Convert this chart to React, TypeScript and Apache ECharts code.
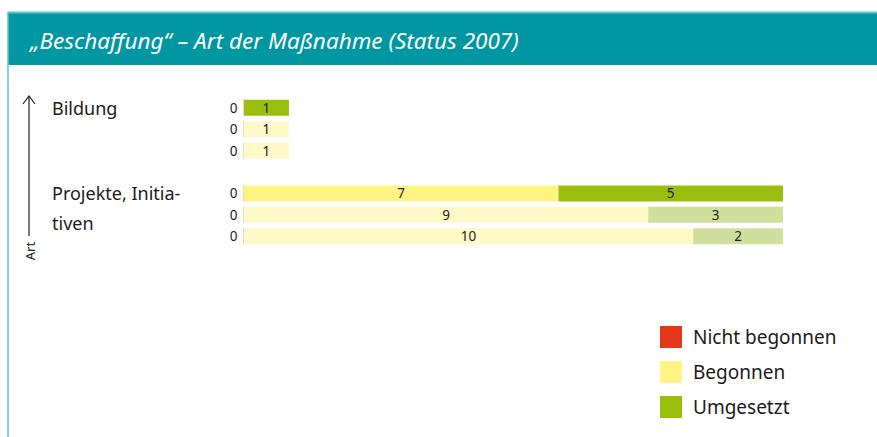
import React, { useEffect, useRef } from "react";
import * as echarts from "echarts";

const titleText = "„Beschaffung“ – Art der Maßnahme (Status 2007)";
const axisName = "Art";
const rows = ["Bildung-1", "Bildung-2", "Bildung-3", "gap", "Projekte-1", "Projekte-2", "Projekte-3"];
const rowLabels = ["Bildung", "", "", "", " \nProjekte, Initia-\ntiven", "", ""];
const seriesNames = ["Nicht begonnen", "Begonnen", "Umgesetzt"];
const nichtBegonnen = [0, 0, 0, null, 0, 0, 0];
const begonnen = [0, 1, 1, null, 7, 9, 10];
const umgesetzt = [1, 0, 0, null, 5, 3, 2];
const shade = ["full", "light", "light", null, "full", "light", "light"];
const fullColors = ["#E5381A", "#FFF383", "#99BE0E"];
const lightColors = ["#F6B9A6", "#FFF9C8", "#D0DF9B"];

export default function App() {
  const ref = useRef<HTMLDivElement>(null);
  useEffect(() => {
    if (!ref.current) return;
    const chart = echarts.init(ref.current, null, { renderer: "svg" });
    const font = "Noto Sans";
    const mk = (vals: (number | null)[], si: number) =>
      vals.map((v, i) =>
        v === null
          ? null
          : {
              value: v,
              itemStyle: { color: shade[i] === "full" ? fullColors[si] : lightColors[si] },
            }
      );
    const valueLabel = {
      show: true,
      position: "inside",
      fontSize: 13.5,
      fontFamily: font,
      color: "#222",
      formatter: (p: any) => (p.value > 0 ? String(p.value) : ""),
    };
    chart.setOption({
      animation: false,
      backgroundColor: "#ffffff",
      grid: { left: 244, width: 539, top: 97, height: 150 },
      xAxis: { type: "value", min: 0, max: 12, show: false },
      yAxis: {
        type: "category",
        data: rows,
        inverse: true,
        axisLine: { show: false },
        axisTick: { show: false },
        splitLine: { show: false },
        axisLabel: {
          interval: 0,
          align: "left",
          margin: 192,
          fontSize: 18,
          lineHeight: 30,
          fontFamily: font,
          color: "#1a1a1a",
          formatter: (_v: string, i: number) => rowLabels[i],
        },
      },
      legend: {
        orient: "vertical",
        left: 660,
        top: 326,
        padding: 0,
        itemWidth: 22,
        itemHeight: 22,
        itemGap: 13,
        icon: "rect",
        selectedMode: false,
        itemStyle: { borderWidth: 0 },
        data: seriesNames,
        textStyle: { fontSize: 19, fontFamily: font, color: "#1a1a1a", padding: [0, 0, 0, 6] },
      },
      series: [
        {
          name: seriesNames[0],
          type: "bar",
          stack: "s",
          barWidth: 16,
          itemStyle: { color: fullColors[0], borderColor: "#F7C3B0", borderWidth: 1 },
          label: {
            show: true,
            position: "left",
            distance: 6,
            fontSize: 13.5,
            fontFamily: font,
            color: "#222",
            formatter: (p: any) => String(p.value),
          },
          data: nichtBegonnen.map((v) => (v === null ? null : v)),
        },
        {
          name: seriesNames[1],
          type: "bar",
          stack: "s",
          barWidth: 16,
          itemStyle: { color: fullColors[1] },
          label: valueLabel,
          data: mk(begonnen, 1),
        },
        {
          name: seriesNames[2],
          type: "bar",
          stack: "s",
          barWidth: 16,
          itemStyle: { color: fullColors[2] },
          label: valueLabel,
          data: mk(umgesetzt, 2),
        },
      ],
      graphic: [
        { type: "rect", shape: { x: 8, y: 12, width: 869, height: 53 }, style: { fill: "#0096A2" }, silent: true },
        { type: "line", shape: { x1: 8, y1: 12.5, x2: 877, y2: 12.5 }, style: { stroke: "#5CC6D1", lineWidth: 2 } },
        { type: "line", shape: { x1: 8, y1: 12, x2: 8, y2: 437 }, style: { stroke: "#5CC6D1", lineWidth: 1.5 } },
        {
          type: "text",
          x: 30,
          y: 40,
          style: {
            text: titleText,
            fill: "#ffffff",
            fontSize: 22.5,
            fontStyle: "italic",
            fontFamily: font,
            verticalAlign: "middle",
          },
        },
        { type: "line", shape: { x1: 29, y1: 96, x2: 29, y2: 236 }, style: { stroke: "#222", lineWidth: 1.2 } },
        { type: "polyline", shape: { points: [[23, 104], [29, 96], [35, 104]] }, style: { stroke: "#222", lineWidth: 1.2, fill: "none" } },
        {
          type: "text",
          x: 30,
          y: 251,
          rotation: Math.PI / 2,
          style: {
            text: axisName,
            fill: "#222",
            fontSize: 13,
            fontFamily: font,
            align: "center",
            verticalAlign: "middle",
          },
        },
      ],
    });
    return () => chart.dispose();
  }, []);
  return <div ref={ref} style={{ position: "fixed", left: 0, top: 0, width: 877, height: 437 }} />;
}
